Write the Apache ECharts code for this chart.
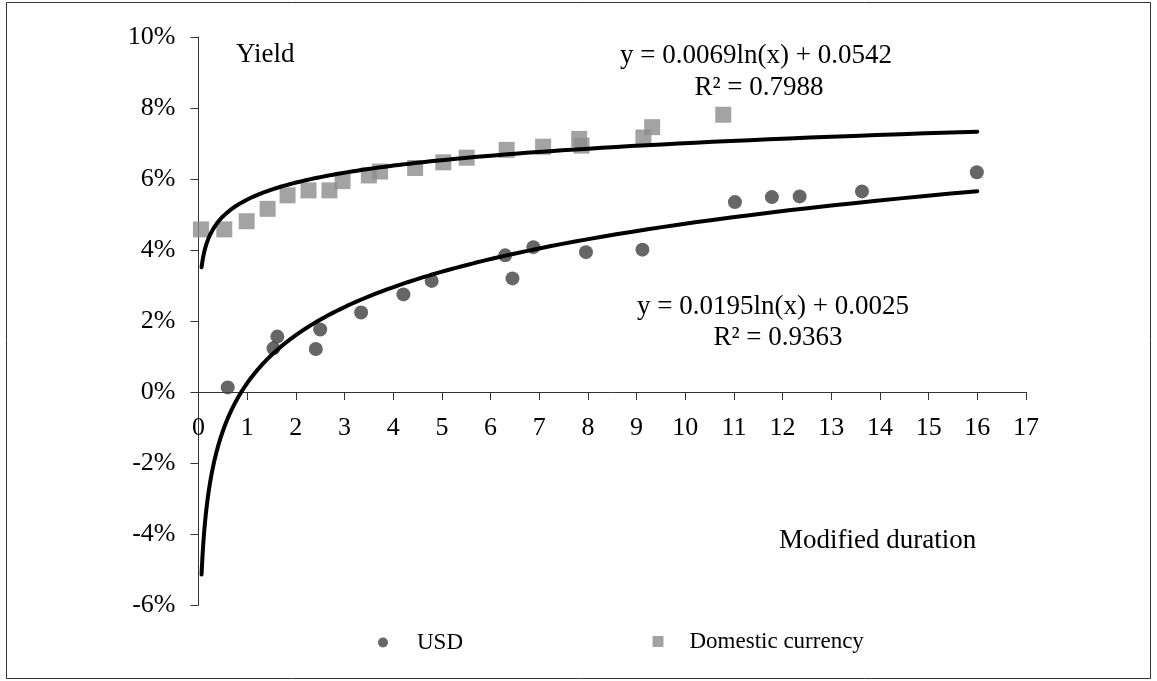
<!DOCTYPE html>
<html>
<head>
<meta charset="utf-8">
<script src="https://cdn.jsdelivr.net/npm/echarts@6/dist/echarts.min.js"></script>
<style>
html,body{margin:0;padding:0;background:#fff;}
#chart{width:1157px;height:681px;}
</style>
</head>
<body>
<div id="chart"></div>
<script>
// ---- data (modified duration, yield in %) ----
const usdDuration = [0.60, 1.54, 1.62, 2.41, 2.50, 3.34, 4.21, 4.79, 6.30, 6.45, 6.88, 7.96, 9.12, 11.02, 11.78, 12.35, 13.63, 15.99];
const usdYield    = [0.13, 1.23, 1.56, 1.21, 1.76, 2.24, 2.75, 3.13, 3.85, 3.20, 4.08, 3.94, 4.01, 5.35, 5.49, 5.51, 5.65, 6.19];
const domDuration = [0.05, 0.53, 0.99, 1.42, 1.83, 2.26, 2.69, 2.96, 3.50, 3.73, 4.45, 5.03, 5.51, 6.33, 7.08, 7.82, 7.87, 9.14, 9.32, 10.78];
const domYield    = [4.58, 4.58, 4.81, 5.16, 5.54, 5.68, 5.68, 5.94, 6.10, 6.21, 6.31, 6.47, 6.60, 6.82, 6.91, 7.13, 6.94, 7.17, 7.46, 7.81];
// trend line coefficients printed on the chart: y = a*ln(x) + b
const usdTrend = [0.0195, 0.0025];
const domTrend = [0.0069, 0.0542];
const trendRange = [0.063, 16];
const yTicks = [-6, -4, -2, 0, 2, 4, 6, 8, 10];
const xTicks = [0, 1, 2, 3, 4, 5, 6, 7, 8, 9, 10, 11, 12, 13, 14, 15, 16, 17];
const legendNames = ['USD', 'Domestic currency'];

function pairs(xs, ys){ return xs.map((x,i)=>[x, ys[i]]); }
function trendLine(coef){
  const out = [];
  const n = 160;
  const l0 = Math.log(trendRange[0]), l1 = Math.log(trendRange[1]);
  for(let i=0;i<=n;i++){
    const x = Math.exp(l0 + (l1-l0)*i/n);
    out.push([x, (coef[0]*Math.log(x) + coef[1]) * 100]);
  }
  return out;
}

const FONT = '"Liberation Serif", "Times New Roman", serif';
const GRID = {left:198.5, right:131, top:37, bottom:76};
const plotH = 681 - GRID.top - GRID.bottom;
const yMin = yTicks[0], yMax = yTicks[yTicks.length-1];
// move the x axis up so that it sits at yield = 0
const xAxisOffset = -plotH * (0 - yMin) / (yMax - yMin);

const chart = echarts.init(document.getElementById('chart'), null, {renderer:'canvas'});
chart.setOption({
  backgroundColor:'#ffffff',
  animation:false,
  textStyle:{fontFamily:FONT, color:'#000'},
  grid:GRID,
  xAxis:{
    type:'value', min:xTicks[0], max:xTicks[xTicks.length-1], interval:1,
    offset:xAxisOffset,
    axisLine:{onZero:false, lineStyle:{color:'#333', width:1}},
    axisTick:{show:true, inside:false, length:8, lineStyle:{color:'#333'}},
    axisLabel:{fontFamily:FONT, fontSize:26, color:'#000', margin:23},
    splitLine:{show:false}
  },
  yAxis:{
    type:'value', min:yMin, max:yMax, interval:2,
    axisLine:{show:true, lineStyle:{color:'#333', width:1}},
    axisTick:{show:true, inside:false, length:8, lineStyle:{color:'#333'}},
    axisLabel:{fontFamily:FONT, fontSize:26, color:'#000', margin:23, formatter:'{value}%', padding:[9,0,0,0]},
    splitLine:{show:false}
  },
  legend:[
    {data:[legendNames[0]], left:373, top:626, itemWidth:10, itemHeight:10, icon:'circle',
     textStyle:{fontFamily:FONT, fontSize:23, color:'#000', padding:[0,0,0,24]}},
    {data:[legendNames[1]], left:647.5, top:625, itemWidth:11, itemHeight:11, icon:'rect',
     textStyle:{fontFamily:FONT, fontSize:23, color:'#000', padding:[0,0,0,21]}}
  ],
  series:[
    {name:legendNames[1], type:'scatter', data:pairs(domDuration, domYield), symbol:'rect', symbolSize:16,
     itemStyle:{color:'#8c8c8c'}, z:2},
    {name:legendNames[0], type:'scatter', data:pairs(usdDuration, usdYield), symbol:'circle', symbolSize:14,
     itemStyle:{color:'#404040'}, z:2},
    {name:'domTrend', type:'line', data:trendLine(domTrend), showSymbol:false, symbol:'none',
     lineStyle:{color:'#000', width:4, cap:'round'}, z:3, silent:true},
    {name:'usdTrend', type:'line', data:trendLine(usdTrend), showSymbol:false, symbol:'none',
     lineStyle:{color:'#000', width:4, cap:'round'}, z:3, silent:true}
  ],
  graphic:[
    {type:'rect', shape:{x:6.5, y:2.5, width:1144, height:676}, style:{fill:null, stroke:'#333', lineWidth:1}, z:-1, silent:true},
    {type:'text', x:236, y:55, style:{text:'Yield', font:'27px '+FONT, fill:'#000', verticalAlign:'middle'}},
    {type:'text', x:779, y:541, style:{text:'Modified duration', font:'27px '+FONT, fill:'#000', verticalAlign:'middle'}},
    {type:'text', x:756, y:56, style:{text:'y = 0.0069ln(x) + 0.0542', font:'27px '+FONT, fill:'#000', align:'center', verticalAlign:'middle'}},
    {type:'text', x:759, y:88, style:{text:'R² = 0.7988', font:'27px '+FONT, fill:'#000', align:'center', verticalAlign:'middle'}},
    {type:'text', x:773, y:307, style:{text:'y = 0.0195ln(x) + 0.0025', font:'27px '+FONT, fill:'#000', align:'center', verticalAlign:'middle'}},
    {type:'text', x:778, y:338, style:{text:'R² = 0.9363', font:'27px '+FONT, fill:'#000', align:'center', verticalAlign:'middle'}}
  ]
});
</script>
</body>
</html>
